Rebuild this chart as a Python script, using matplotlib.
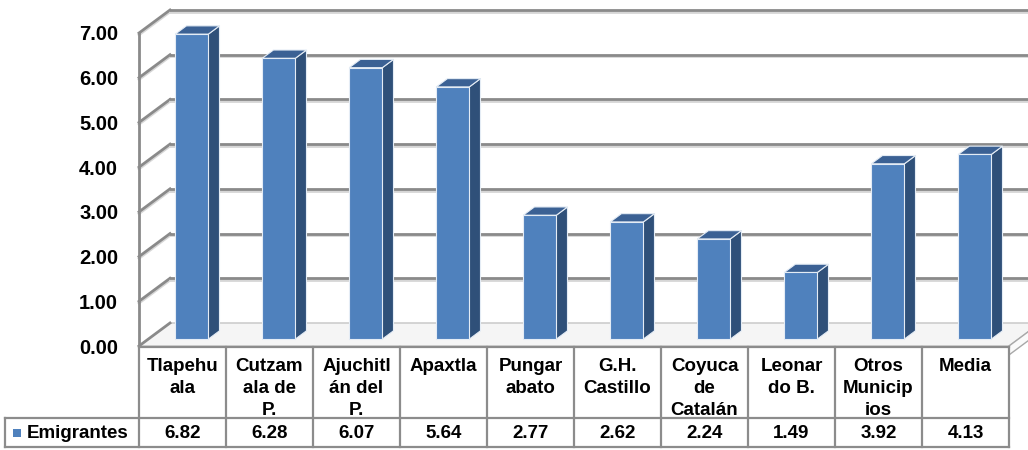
import numpy as np
import matplotlib
matplotlib.use('Agg')
import matplotlib.pyplot as plt
from matplotlib.patches import Polygon, Rectangle
import matplotlib.transforms as mtransforms

plt.rcParams['font.family'] = ['Liberation Sans', 'DejaVu Sans']
plt.rcParams['font.weight'] = 'bold'

municipios = ['Tlapehu\nala', 'Cutzam\nala de\nP.', 'Ajuchitl\nán del\nP.', 'Apaxtla',
              'Pungar\nabato', 'G.H.\nCastillo', 'Coyuca\nde\nCatalán', 'Leonar\ndo B.',
              'Otros\nMunicip\nios', 'Media']
emigrantes = [6.82, 6.28, 6.07, 5.64, 2.77, 2.62, 2.24, 1.49, 3.92, 4.13]
serie = 'Emigrantes'
yticks = [0, 1, 2, 3, 4, 5, 6, 7]

W, H = 1028, 450
fig = plt.figure(figsize=(W / 100, H / 100), dpi=100)
fig.patch.set_facecolor('white')

# front plane: x 139..1009 px, y value 0 at 346 px, 7 at 33 px
ax = fig.add_axes([139 / W, (H - 346) / H, 870 / W, (346 - 33) / H])
n = len(emigrantes)
ax.set_xlim(0, n)
ax.set_ylim(0, 7)
for s in ax.spines.values():
    s.set_visible(False)
ax.set_xticks([])
ax.set_yticks(yticks)
ax.set_yticklabels(['%.2f' % v for v in yticks], fontsize=14.5, fontweight='bold')
ax.tick_params(axis='y', length=0, pad=15)
ax.patch.set_alpha(0)

# oblique depth offset (data units per full depth)
sx = 31 / 87
sy = 23 / 44.7

grid_c = '#8a8a8a'
shadow_c = '#d6d6d6'
sh = 0.04

# floor
floor = Polygon([(0, 0), (n, 0), (n + sx, sy), (sx, sy)], closed=True,
                facecolor='#f5f5f5', edgecolor='#c4c4c4', lw=1, clip_on=False, zorder=1)
ax.add_patch(floor)
slab = Polygon([(n, 0), (n + sx, sy), (n + sx, sy - 0.2), (n, -0.2)], closed=True,
               facecolor='#fafafa', edgecolor='#a8a8a8', lw=1, clip_on=False, zorder=1)
ax.add_patch(slab)

# walls gridlines
for v in yticks:
    if v == 0:
        ax.plot([0, sx], [0, sy], color=grid_c, lw=2, clip_on=False, zorder=2)
        continue
    ax.plot([0, sx], [v - sh, v + sy - sh], color=shadow_c, lw=2, clip_on=False, zorder=2)
    ax.plot([0, sx], [v, v + sy], color=grid_c, lw=2, clip_on=False, zorder=2)
    ax.plot([sx, n + sx], [v + sy - sh, v + sy - sh], color=shadow_c, lw=2, clip_on=False, zorder=2)
    ax.plot([sx, n + sx], [v + sy, v + sy], color=grid_c, lw=2, clip_on=False, zorder=2)
ax.plot([0, 0], [0, 7], color=grid_c, lw=2, clip_on=False, zorder=2)

# bars
d0, d1 = 0.30, 0.66
bw = 0.38
front_c = '#4f81bd'
side_c = '#2f5079'
top_c = '#3b6194'
edge_c = '#e4ecf5'
for i, v in enumerate(emigrantes):
    x0 = i + 0.5 - bw / 2 + d0 * sx
    x1 = x0 + bw
    y0 = d0 * sy
    ddx = (d1 - d0) * sx
    ddy = (d1 - d0) * sy
    ax.add_patch(Polygon([(x1, y0), (x1 + ddx, y0 + ddy), (x1 + ddx, y0 + ddy + v), (x1, y0 + v)],
                         closed=True, facecolor=side_c, edgecolor=edge_c, lw=0.8, clip_on=False, zorder=5))
    ax.add_patch(Polygon([(x0, y0 + v), (x1, y0 + v), (x1 + ddx, y0 + v + ddy), (x0 + ddx, y0 + v + ddy)],
                         closed=True, facecolor=top_c, edgecolor=edge_c, lw=0.8, clip_on=False, zorder=5))
    ax.add_patch(Rectangle((x0, y0), bw, v, facecolor=front_c, edgecolor=edge_c, lw=0.8,
                           clip_on=False, zorder=6))

# data table
def fy(px):
    return 1 - px / H

tr = mtransforms.blended_transform_factory(ax.transData, fig.transFigure)
line_c = '#8c8c8c'
top_px, mid_px, bot_px = 347, 418, 447
left_x = -134 / 87
ax.plot([0, n], [fy(top_px)] * 2, transform=tr, color=line_c, lw=1.6, clip_on=False)
ax.plot([left_x, n], [fy(mid_px)] * 2, transform=tr, color=line_c, lw=1.6, clip_on=False)
ax.plot([left_x, n], [fy(bot_px)] * 2, transform=tr, color=line_c, lw=1.6, clip_on=False)
ax.plot([left_x, left_x], [fy(mid_px), fy(bot_px)], transform=tr, color=line_c, lw=1.6, clip_on=False)
for i in range(n + 1):
    ax.plot([i, i], [fy(top_px), fy(bot_px)], transform=tr, color=line_c, lw=1.6, clip_on=False)

for i, (lab, v) in enumerate(zip(municipios, emigrantes)):
    ax.text(i + 0.5, fy(358), lab, transform=tr, ha='center', va='top', fontsize=13.5,
            fontweight='bold', linespacing=1.38)
    ax.text(i + 0.5, fy(433), '%.2f' % v, transform=tr, ha='center', va='center',
            fontsize=13.5, fontweight='bold')

ax.add_patch(Rectangle((-126 / 87, fy(437)), 8 / 87, 8 / H, transform=tr,
                       facecolor=front_c, edgecolor='none', clip_on=False))
ax.text(-112 / 87, fy(433), serie, transform=tr, ha='left', va='center',
        fontsize=13.5, fontweight='bold')

fig.savefig('out.png', dpi=100)
